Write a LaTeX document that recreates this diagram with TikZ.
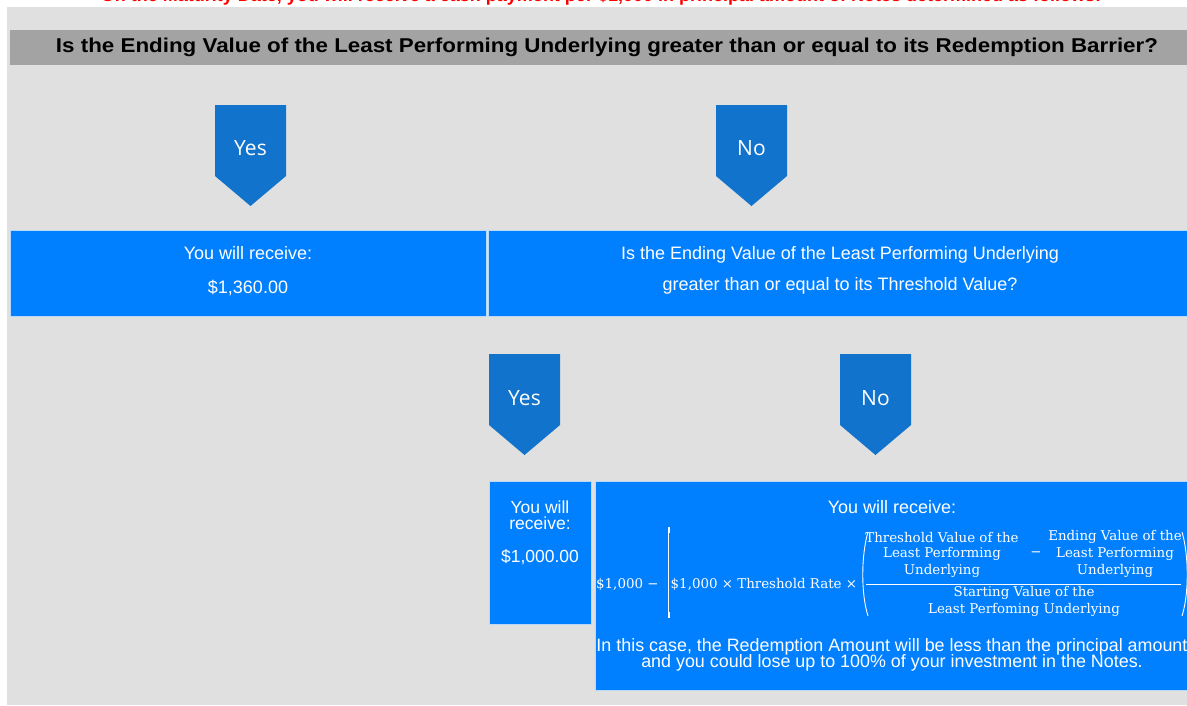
\documentclass[tikz,border=0pt]{standalone}
\usepackage{fontspec}
\setmainfont{Liberation Sans}
\newfontfamily\tagfont{Open Sans}
\newfontfamily\frmfont{DejaVu Serif}
\definecolor{bg}{HTML}{E0E0E0}
\definecolor{hdr}{HTML}{A3A3A3}
\definecolor{boxblue}{HTML}{0080FF}
\definecolor{tagblue}{HTML}{1173CC}
\definecolor{edge}{HTML}{B8DAF8}
\definecolor{introred}{HTML}{FF0000}
\tikzset{
  bluebox/.style={fill=boxblue, draw=edge, line width=0.8pt, anchor=north west, inner sep=0pt},
  tagshape/.style={fill=tagblue},
  tagtext/.style={text=white, font=\tagfont\fontsize{21}{24}\selectfont},
  boxtext/.style={text=white, font=\fontsize{18}{20}\selectfont},
  frm/.style={text=white, font=\frmfont\fontsize{13.4}{15}\selectfont, inner sep=0pt},
  frmline/.style={white, line width=0.9pt}
}
\begin{document}
\begin{tikzpicture}[x=1pt,y=-1pt]
\useasboundingbox (0,0) rectangle (1187,705);
\begin{scope}
\clip (0,0) rectangle (1187,705);
\fill[bg] (7,7) rectangle (1187,705);
\node[text=introred, font=\bfseries\fontsize{18}{20}\selectfont] (intro) at (601,-3)
  {On the Maturity Date, you will receive a cash payment per \$1,000 in principal amount of Notes determined as follows:};
\fill[hdr] (10,30) rectangle (1187,65);
\node[font=\bfseries\fontsize{20}{22}\selectfont, xscale=1.118] (q1) at (607,47)
  {Is the Ending Value of the Least Performing Underlying greater than or equal to its Redemption Barrier?};
% first level tags
\fill[tagshape] (215,105) -- (286,105) -- (286,176) -- (250.5,206) -- (215,176) -- cycle;
\node[tagtext] (yes1) at (250.5,148) {Yes};
\fill[tagshape] (716,105) -- (787,105) -- (787,176) -- (751.5,206) -- (716,176) -- cycle;
\node[tagtext] (no1) at (751.5,148) {No};
% first level boxes
\node[bluebox, minimum width=476pt, minimum height=86pt] (r1) at (10,230) {};
\node[boxtext] (r1a) at (248,253) {You will receive:};
\node[boxtext] (r1b) at (248,288) {\$1,360.00};
\node[bluebox, minimum width=710pt, minimum height=86pt] (q2) at (488,230) {};
\node[boxtext] (q2a) at (840,255) {Is the Ending Value of the Least Performing Underlying};
\node[boxtext] (q2b) at (840,286) {greater than or equal to its Threshold Value?};
% second level tags
\fill[tagshape] (489,354) -- (560,354) -- (560,425) -- (524.5,455) -- (489,425) -- cycle;
\node[tagtext] (yes2) at (524.5,398) {Yes};
\fill[tagshape] (840,354) -- (911,354) -- (911,425) -- (875.5,455) -- (840,425) -- cycle;
\node[tagtext] (no2) at (875.5,398) {No};
% second level boxes
\node[bluebox, minimum width=102pt, minimum height=143pt] (r2) at (489,481) {};
\node[boxtext, inner sep=0pt, font=\fontsize{17.5}{16}\selectfont] (r2a) at (540,507) {You will};
\node[boxtext, inner sep=0pt, font=\fontsize{17.5}{16}\selectfont] (r2c) at (540,523) {receive:};
\node[boxtext, font=\fontsize{17.5}{20}\selectfont] (r2b) at (540,557) {\$1,000.00};
\node[bluebox, minimum width=600pt, minimum height=209pt] (r3) at (595,481) {};
\node[boxtext] (r3a) at (892,507) {You will receive:};
% formula
\node[frm, anchor=west] (f1) at (596,584) {\$1,000 −};
\draw[frmline] (668.5,530) -- (668.5,615);
\fill[white] (667.5,527) rectangle (670,533);
\fill[white] (667.5,612) rectangle (670,618);
\node[frm, anchor=west] (f2) at (670.5,584) {\$1,000 × Threshold Rate ×};
\draw[frmline] (868,532) .. controls (861,556) and (861,594) .. (868,616);
\node[frm] (n1a) at (942,537) {Threshold Value of the};
\node[frm] (n1b) at (942,554) {Least Performing};
\node[frm] (n1c) at (942,571) {Underlying};
\node[frm] (minus) at (1036,554) {−};
\node[frm] (n2a) at (1115,537) {Ending Value of the};
\node[frm] (n2b) at (1115,554) {Least Performing};
\node[frm] (n2c) at (1115,571) {Underlying};
\draw[white, line width=0.8pt] (866,584.5) -- (1181,584.5);
\node[frm] (d1) at (1024,593) {Starting Value of the};
\node[frm] (d2) at (1024,610) {Least Perfoming Underlying};
\draw[frmline] (1182,532) .. controls (1189,556) and (1189,594) .. (1182,616);
\node[boxtext, font=\fontsize{17.9}{16}\selectfont] (r3b) at (892,647)
  {In this case, the Redemption Amount will be less than the principal amount};
\node[boxtext, font=\fontsize{17.9}{16}\selectfont] (r3c) at (892,663)
  {and you could lose up to 100\% of your investment in the Notes.};
\end{scope}
\end{tikzpicture}
\end{document}
